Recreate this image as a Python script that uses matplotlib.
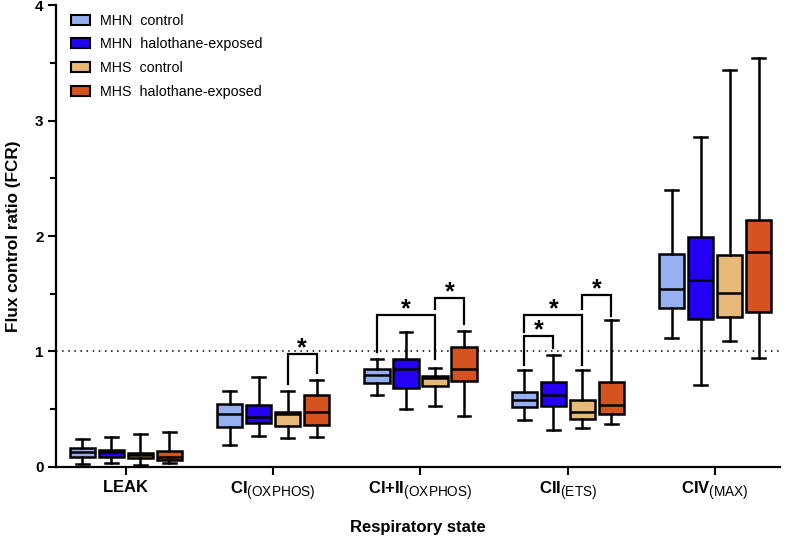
import numpy as np
import matplotlib
matplotlib.use("Agg")
import matplotlib.pyplot as plt
from matplotlib.patches import Patch
import matplotlib._mathtext as mt

plt.rcParams["font.family"] = ["Liberation Sans", "DejaVu Sans"]
plt.rcParams["mathtext.fontset"] = "custom"
plt.rcParams["mathtext.rm"] = "Liberation Sans"
plt.rcParams["mathtext.bf"] = "Liberation Sans:bold"
# subscripts in the reference are a bit larger than matplotlib's default
mt.SHRINK_FACTOR = 0.82

# Respiratory states (x categories)
states = [r"$\mathbf{LEAK}$",
          r"$\mathbf{CI}_{\mathrm{(OXPHOS)}}$",
          r"$\mathbf{CI{+}II}_{\mathrm{(OXPHOS)}}$",
          r"$\mathbf{CII}_{\mathrm{(ETS)}}$",
          r"$\mathbf{CIV}_{\mathrm{(MAX)}}$"]

series = ["MHN  control", "MHN  halothane-exposed", "MHS  control", "MHS  halothane-exposed"]
colors = ["#96AFF0", "#2300F5", "#E7B878", "#D4531F"]

# five-number summaries per state: [whisker low, q1, median, q3, whisker high]
mhn_control = [[0.023, 0.087, 0.125, 0.160, 0.240],
               [0.188, 0.347, 0.454, 0.541, 0.657],
               [0.622, 0.729, 0.793, 0.850, 0.937],
               [0.402, 0.520, 0.576, 0.648, 0.836],
               [1.119, 1.376, 1.544, 1.845, 2.400]]
mhn_halothane = [[0.030, 0.080, 0.125, 0.142, 0.255],
                 [0.266, 0.376, 0.434, 0.535, 0.778],
                 [0.498, 0.680, 0.850, 0.934, 1.166],
                 [0.318, 0.529, 0.619, 0.735, 0.966],
                 [0.711, 1.281, 1.619, 1.990, 2.862]]
mhs_control = [[0.012, 0.075, 0.099, 0.119, 0.284],
               [0.246, 0.356, 0.460, 0.477, 0.654],
               [0.529, 0.700, 0.769, 0.787, 0.856],
               [0.338, 0.416, 0.474, 0.578, 0.836],
               [1.093, 1.301, 1.509, 1.833, 3.440]]
mhs_halothane = [[0.035, 0.058, 0.087, 0.133, 0.300],
                 [0.255, 0.364, 0.477, 0.622, 0.752],
                 [0.442, 0.743, 0.850, 1.038, 1.174],
                 [0.370, 0.454, 0.538, 0.737, 1.270],
                 [0.940, 1.342, 1.865, 2.140, 3.545]]

# significance brackets: (state, box a, box b, top, left leg end, right leg end)
brackets = [(1, 2, 3, 0.977, 0.715, 0.815),
            (2, 0, 2, 1.316, 0.997, 0.930),
            (2, 2, 3, 1.460, 1.365, 1.238),
            (3, 0, 1, 1.134, 0.882, 1.027),
            (3, 0, 2, 1.316, 1.171, 0.882),
            (3, 2, 3, 1.489, 1.365, 1.310)]

all_data = [mhn_control, mhn_halothane, mhs_control, mhs_halothane]
offsets = [-0.295, -0.098, 0.098, 0.295]
box_w = 0.172

fig = plt.figure(figsize=(7.87, 5.43), dpi=100)
ax = fig.add_axes([0.0712, 0.1405, 0.92, 0.8495])

x = np.arange(len(states))
for k, (vals, col) in enumerate(zip(all_data, colors)):
    stats = [dict(whislo=v[0], q1=v[1], med=v[2], q3=v[3], whishi=v[4]) for v in vals]
    ax.bxp(stats, positions=x + offsets[k], widths=box_w, capwidths=box_w * 0.5,
           showfliers=False, patch_artist=True, manage_ticks=False,
           boxprops=dict(facecolor=col, edgecolor="black", linewidth=1.8),
           medianprops=dict(color="black", linewidth=1.8),
           whiskerprops=dict(color="black", linewidth=1.8),
           capprops=dict(color="black", linewidth=1.8))

ax.axhline(1, color="black", linestyle=(0, (1, 3)), linewidth=1.1, zorder=0)

for s, a, b, top, la, lb in brackets:
    xa, xb = s + offsets[a], s + offsets[b]
    ax.plot([xa, xa, xb, xb], [la, top, top, lb], color="black", linewidth=1.6,
            solid_joinstyle="miter")
    ax.text((xa + xb) / 2, top - 0.055, "*", ha="center", va="bottom",
            fontsize=18, fontweight="bold")

ax.set_xlim(-0.473, 4.44)
ax.set_ylim(0, 4)
ax.set_xticks(x)
ax.set_xticklabels(states, fontsize=12)
ax.set_yticks([0, 1, 2, 3, 4])
ax.set_yticklabels(["0", "1", "2", "3", "4"], fontsize=11, fontweight="bold")
ax.set_yticks(np.arange(0.5, 4, 1), minor=True)
ax.tick_params(axis="both", which="major", length=6, width=1.5, pad=3)
ax.tick_params(axis="y", which="minor", length=4, width=1.5)
ax.tick_params(axis="x", pad=3)
for side in ["top", "right"]:
    ax.spines[side].set_visible(False)
for side in ["left", "bottom"]:
    ax.spines[side].set_linewidth(1.6)

ax.set_ylabel("Flux control ratio (FCR)", fontsize=12.3, fontweight="bold", labelpad=10)
ax.set_xlabel("Respiratory state", fontsize=12, fontweight="bold", labelpad=13)

handles = [Patch(facecolor=c, edgecolor="black", linewidth=1.5) for c in colors]
ax.legend(handles, series, loc="upper left", bbox_to_anchor=(0.003, 1.01), frameon=False,
          fontsize=10.3, handlelength=1.3, handleheight=0.7, labelspacing=0.68,
          handletextpad=0.75)

fig.savefig("out.png", dpi=100)
